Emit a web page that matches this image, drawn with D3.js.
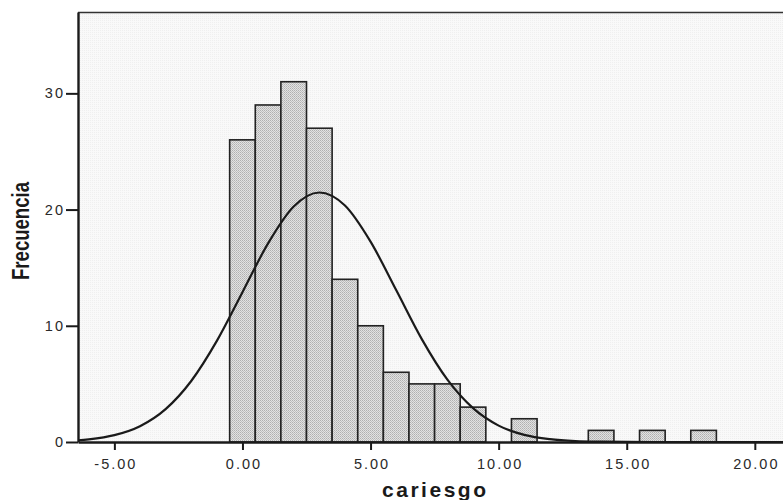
<!DOCTYPE html>
<html>
<head>
<meta charset="utf-8">
<script src="https://cdn.jsdelivr.net/npm/d3@7"></script>
<style>
  html, body { margin: 0; padding: 0; background: #ffffff; }
  svg { display: block; }
</style>
</head>
<body>
<svg id="chart" width="783" height="500"></svg>
<script>
// ---- data ----
const binCenters = [0, 1, 2, 3, 4, 5, 6, 7, 8, 9, 10, 11, 12, 13, 14, 15, 16, 17, 18];
const binCounts  = [26, 29, 31, 27, 14, 10, 6, 5, 5, 3, 0, 2, 0, 0, 1, 0, 1, 0, 1];
const binWidth = 1;

// normal curve overlay
const curveX = [-7, -6, -5, -4, -3, -2, -1, 0, 1, 2, 3, 4, 5, 6, 7, 8, 9, 10, 11, 12, 13, 14, 15, 16, 17, 18, 19, 20, 21, 22];
const curveY = [0.08, 0.23, 0.59, 1.36, 2.83, 5.25, 8.7, 12.89, 17.09, 20.26, 21.47, 20.35, 17.24, 13.07, 8.85, 5.36, 2.91, 1.41, 0.61, 0.24, 0.08, 0.03, 0.01, 0, 0, 0, 0, 0, 0, 0];

const xTicks = [-5, 0, 5, 10, 15, 20];
const xTickLabels = ["-5.00", "0.00", "5.00", "10.00", "15.00", "20.00"];
const yTicks = [0, 10, 20, 30];
const yTickLabels = ["0", "10", "20", "30"];
const xTitle = "cariesgo";
const yTitle = "Frecuencia";

// ---- layout ----
const svg = d3.select("#chart");
const mLeft = 78, mRight = 783, mTop = 12, mBottom = 442;

const x = d3.scaleLinear().domain([-6.42, 21.1]).range([mLeft, mRight]);
const y = d3.scaleLinear().domain([0, 37]).range([mBottom, mTop]);

const defs = svg.append("defs");
const pat = defs.append("pattern")
  .attr("id", "stipple").attr("patternUnits", "userSpaceOnUse")
  .attr("width", 2).attr("height", 2);
pat.append("rect").attr("width", 2).attr("height", 2).attr("fill", "#e2e2e2");
pat.append("rect").attr("width", 1).attr("height", 1).attr("fill", "#b0b0b0");
pat.append("rect").attr("x", 1).attr("y", 1).attr("width", 1).attr("height", 1).attr("fill", "#c0c0c0");

const bgPat = defs.append("pattern")
  .attr("id", "bgstip").attr("patternUnits", "userSpaceOnUse")
  .attr("width", 2).attr("height", 2);
bgPat.append("rect").attr("width", 2).attr("height", 2).attr("fill", "#f9f9f9");
bgPat.append("rect").attr("width", 1).attr("height", 1).attr("fill", "#efefef");

defs.append("clipPath").attr("id", "plotclip")
  .append("rect").attr("x", mLeft).attr("y", mTop).attr("width", mRight - mLeft).attr("height", mBottom - mTop);

// plot background
svg.append("rect")
  .attr("x", mLeft).attr("y", mTop).attr("width", mRight - mLeft).attr("height", mBottom - mTop)
  .attr("fill", "url(#bgstip)");

// bars
svg.append("g").selectAll("rect")
  .data(binCenters.map((c, i) => ({c, n: binCounts[i]})).filter(d => d.n > 0))
  .join("rect")
  .attr("x", d => x(d.c - binWidth / 2))
  .attr("width", d => x(d.c + binWidth / 2) - x(d.c - binWidth / 2))
  .attr("y", d => y(d.n))
  .attr("height", d => y(0) - y(d.n))
  .attr("fill", "url(#stipple)")
  .attr("stroke", "#222")
  .attr("stroke-width", 1.6);

// normal curve
const line = d3.line()
  .x((d, i) => x(curveX[i]))
  .y(d => y(d))
  .curve(d3.curveMonotoneX);
svg.append("path")
  .datum(curveY)
  .attr("clip-path", "url(#plotclip)")
  .attr("d", line)
  .attr("fill", "none")
  .attr("stroke", "#1a1a1a")
  .attr("stroke-width", 2.2);

// top border
svg.append("line")
  .attr("x1", mLeft).attr("x2", mRight).attr("y1", mTop + 0.5).attr("y2", mTop + 0.5)
  .attr("stroke", "#333").attr("stroke-width", 1.5);

// axes
const LS = 2;
const yAxis = d3.axisLeft(y).tickValues(yTicks).tickFormat((d, i) => yTickLabels[i])
  .tickSize(12).tickSizeOuter(0).tickPadding(3);
const gy = svg.append("g").attr("transform", `translate(${mLeft},0)`).call(yAxis);
gy.select(".domain").attr("stroke", "#1a1a1a").attr("stroke-width", 2.4);
gy.selectAll(".tick line").attr("stroke", "#1a1a1a").attr("stroke-width", 2);
gy.selectAll(".tick text")
  .attr("font-family", "'Liberation Sans', Arial, sans-serif")
  .attr("font-size", 14.5).attr("fill", "#2a2a2a")
  .style("letter-spacing", LS + "px").attr("dx", LS);

const xAxis = d3.axisBottom(x).tickValues(xTicks).tickFormat((d, i) => xTickLabels[i])
  .tickSize(8).tickSizeOuter(0).tickPadding(9);
const gx = svg.append("g").attr("transform", `translate(0,${mBottom})`).call(xAxis);
gx.select(".domain").attr("stroke", "#1a1a1a").attr("stroke-width", 2.4);
gx.selectAll(".tick line").attr("stroke", "#1a1a1a").attr("stroke-width", 2);
gx.selectAll(".tick text")
  .attr("font-family", "'Liberation Sans', Arial, sans-serif")
  .attr("font-size", 14.5).attr("fill", "#2a2a2a")
  .style("letter-spacing", LS + "px").attr("dx", LS / 2);

// titles
svg.append("text")
  .attr("x", 434).attr("y", 497)
  .attr("text-anchor", "middle")
  .attr("font-family", "'Liberation Sans', Arial, sans-serif")
  .attr("font-weight", "bold").attr("font-size", 21)
  .attr("fill", "#1a1a1a")
  .attr("textLength", 104).attr("lengthAdjust", "spacing")
  .text(xTitle);

svg.append("text")
  .attr("transform", "translate(28.5,231) rotate(-90)")
  .attr("text-anchor", "middle")
  .attr("font-family", "'Liberation Sans Narrow', 'Liberation Sans', Arial, sans-serif")
  .attr("font-weight", "bold").attr("font-size", 24)
  .attr("fill", "#1a1a1a")
  .attr("textLength", 98).attr("lengthAdjust", "spacingAndGlyphs")
  .text(yTitle);
</script>
</body>
</html>
